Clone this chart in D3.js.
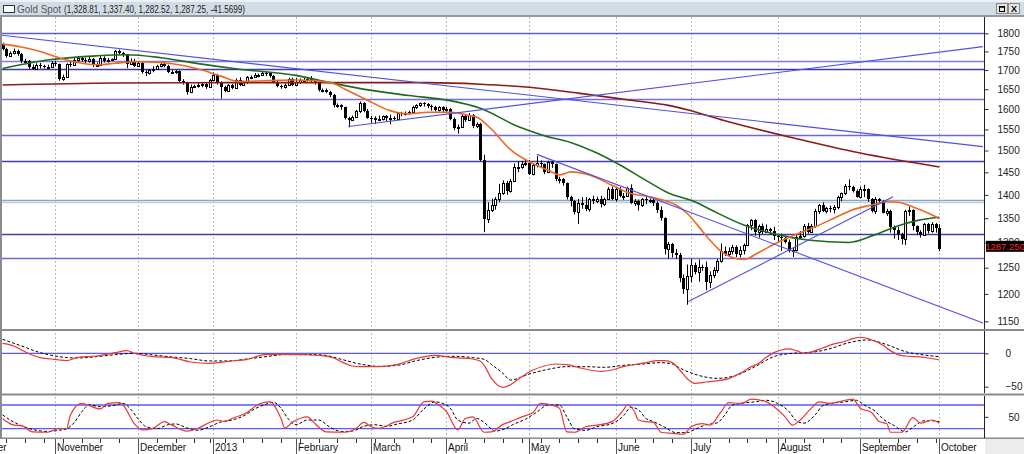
<!DOCTYPE html>
<html>
<head>
<meta charset="utf-8">
<script src="https://cdn.jsdelivr.net/npm/d3@7"></script>
<style>
  body { margin: 0; background: #fff; overflow: hidden; }
  svg { display: block; font-family: "Liberation Sans", Arial, sans-serif; }
</style>
</head>
<body>
<svg id="chart" width="1024" height="454"></svg>
<script>
// Gold spot, one candle per trading day, 12 Oct 2012 .. 1 Oct 2013
const open = [
  1770,1756,1738,1746,1752,1744,1724,1725,1709,1703,1713,1712,1708,1709,
  1719,1715,1676,1683,1715,1714,1727,1731,1728,1725,1730,1713,1714,1733,1725,1728,1729,1751,1745,1741,1717,1725,
  1712,1719,1696,1693,1699,1704,1711,1716,1712,1695,1696,1697,1670,1667,1642,1657,1658,1662,1664,1656,
  1675,1688,1668,1656,1645,1660,1654,1673,1662,1668,1681,1682,1686,1687,1692,1691,1685,1669,1659,1655,1662,1677,
  1662,1668,1675,1675,1677,1670,1667,1648,1648,1643,1636,1609,1610,1604,1577,1573,1581,1594,1615,1596,
  1578,1577,1573,1576,1582,1577,1578,1576,1590,1587,1591,1592,1604,1610,1614,1612,1607,1605,1598,1605,
  1598,1600,1575,1554,1557,1582,1574,1585,1558,1564,1477,1348,1368,1377,1392,1405,1425,1408,1431,1462,1462,1468,
  1472,1446,1467,1470,1468,1450,1473,1469,1434,1435,1425,1395,1387,1364,1383,1377,1369,1391,1386,1392,1380,1391,1412,
  1392,1412,1397,1398,1414,1383,1386,1378,1391,1388,1388,1383,1368,1350,1286,1296,1279,1275,1230,1209,
  1234,1255,1242,1252,1251,1223,1235,1245,1263,1283,1277,1283,1290,1277,1284,1295,1335,1346,1321,1334,1322,1328,1324,
  1313,1311,1310,1302,1283,1284,1311,1313,1334,1322,1334,1366,1377,1365,1372,1370,1374,1395,1404,1420,1418,1409,
  1396,1412,1412,1390,1366,1391,1386,1362,1366,1331,1326,1318,1307,1365,1367,1333,1322,1316,1337,1323,1338,
  1328.81
];
const high = [
  1774,1760,1750,1758,1755,1746,1730,1727,1715,1718,1719,1714,1714,1724,
  1725,1717,1688,1718,1724,1732,1738,1736,1733,1736,1732,1720,1738,1737,1732,1731,1754,1755,1749,1743,1731,1730,
  1724,1721,1700,1703,1710,1714,1720,1722,1714,1700,1700,1699,1676,1669,1662,1662,1666,1668,1667,1677,
  1694,1690,1670,1659,1663,1664,1678,1681,1672,1684,1686,1692,1691,1695,1696,1694,1687,1672,1662,1665,1680,1680,
  1679,1678,1680,1682,1684,1673,1669,1652,1652,1646,1638,1614,1612,1606,1581,1584,1598,1619,1617,1600,
  1583,1582,1584,1584,1585,1586,1582,1592,1593,1594,1596,1608,1612,1616,1617,1615,1611,1608,1607,1607,
  1605,1602,1579,1562,1588,1586,1590,1588,1567,1566,1490,1384,1392,1395,1424,1432,1431,1435,1470,1475,1476,1478,
  1478,1470,1487,1477,1470,1476,1476,1470,1440,1437,1427,1398,1389,1391,1395,1395,1393,1398,1396,1398,1394,1417,1418,
  1416,1417,1404,1418,1423,1391,1390,1393,1396,1392,1394,1386,1375,1352,1301,1299,1287,1279,1237,1256,
  1267,1260,1266,1256,1262,1243,1251,1267,1298,1292,1290,1295,1294,1292,1298,1338,1348,1348,1337,1339,1337,1330,1332,
  1317,1318,1313,1306,1290,1315,1323,1338,1340,1338,1370,1380,1384,1374,1377,1378,1398,1405,1424,1434,1420,1412,
  1418,1422,1414,1393,1395,1393,1388,1370,1368,1335,1332,1320,1368,1375,1369,1335,1325,1340,1340,1342,1340,
  1337.40
];
const low = [
  1753,1733,1735,1742,1738,1718,1718,1703,1700,1700,1704,1704,1705,1707,
  1710,1672,1672,1681,1708,1712,1722,1722,1718,1720,1708,1708,1712,1720,1720,1724,1727,1740,1735,1705,1714,1708,
  1710,1690,1684,1688,1694,1702,1707,1707,1692,1690,1690,1666,1662,1636,1640,1653,1654,1655,1651,1654,
  1672,1662,1626,1642,1643,1650,1652,1658,1660,1664,1676,1679,1681,1685,1684,1680,1665,1655,1651,1652,1660,1658,
  1658,1664,1669,1670,1666,1662,1644,1642,1640,1630,1604,1603,1598,1574,1555,1570,1578,1590,1592,1576,
  1566,1563,1570,1572,1570,1562,1572,1574,1582,1584,1586,1590,1600,1605,1606,1602,1596,1594,1594,1592,
  1592,1572,1548,1540,1555,1568,1571,1553,1553,1475,1321,1340,1363,1368,1384,1400,1400,1405,1428,1450,1458,1464,
  1444,1443,1461,1462,1446,1448,1460,1430,1425,1420,1390,1375,1358,1338,1370,1365,1364,1380,1382,1373,1376,1389,1388,
  1385,1395,1389,1396,1380,1376,1366,1374,1380,1382,1376,1361,1345,1276,1268,1270,1267,1222,1200,1180,
  1222,1237,1223,1244,1207,1211,1230,1240,1260,1273,1272,1276,1271,1270,1276,1294,1325,1314,1310,1317,1320,1316,1305,
  1300,1283,1298,1280,1271,1282,1308,1310,1318,1320,1330,1359,1363,1360,1362,1360,1369,1386,1400,1410,1405,1394,
  1393,1395,1385,1362,1359,1380,1360,1355,1320,1308,1305,1296,1295,1355,1325,1315,1310,1314,1318,1320,1320,
  1282.52
];
const close = [
  1756,1738,1746,1752,1744,1724,1725,1709,1703,1713,1712,1708,1709,1719,
  1715,1676,1683,1715,1714,1727,1731,1728,1725,1730,1713,1714,1733,1725,1728,1729,1751,1745,1741,1717,1725,1712,
  1719,1696,1693,1699,1704,1711,1716,1712,1695,1696,1697,1670,1667,1642,1657,1658,1662,1664,1656,1675,
  1688,1668,1656,1645,1660,1654,1673,1662,1668,1681,1682,1686,1687,1692,1691,1685,1669,1659,1655,1662,1677,1662,
  1668,1675,1675,1677,1670,1667,1648,1648,1643,1636,1609,1610,1604,1577,1573,1581,1594,1615,1596,1578,
  1577,1573,1576,1582,1577,1578,1576,1590,1587,1591,1592,1604,1610,1614,1612,1607,1605,1598,1605,1598,
  1600,1575,1554,1557,1582,1574,1585,1558,1564,1477,1348,1368,1377,1392,1405,1425,1408,1431,1462,1462,1468,1472,
  1446,1467,1470,1468,1450,1473,1469,1434,1435,1425,1395,1387,1364,1383,1377,1369,1391,1386,1392,1380,1391,1412,1392,
  1412,1397,1398,1414,1383,1386,1378,1391,1388,1388,1383,1368,1350,1286,1296,1279,1275,1230,1209,1234,
  1255,1242,1252,1251,1223,1235,1245,1263,1283,1277,1283,1290,1277,1284,1295,1335,1346,1321,1334,1322,1328,1324,1313,
  1311,1310,1302,1283,1284,1311,1313,1334,1322,1334,1366,1377,1365,1372,1370,1374,1395,1404,1420,1418,1409,1396,
  1412,1412,1390,1366,1391,1386,1362,1366,1331,1326,1318,1307,1365,1367,1333,1322,1316,1337,1323,1338,1329,
  1287.25
];

// moving averages: [trading day, price]
const fastMa = [[0,1770],[5,1762],[10,1750],[15,1733],[20,1720],[25,1714],[30,1718],[35,1722],[42,1720],[48,1712],
  [53,1700],[58,1684],[63,1670],[70,1672],[78,1674],[87,1668],[91,1650],[97,1622],[103,1596],[108,1588],[113,1592],
  [119,1592],[124,1584],[126,1580],[130,1550],[135,1502],[140,1474],[145,1455],[148,1444],[151,1451],[156,1444],
  [162,1421],[167,1403],[172,1396],[175,1390],[179,1378],[182,1360],[185,1333],[188,1305],[191,1282],[194,1270],
  [197,1266],[201,1280],[206,1300],[211,1317],[216,1332],[221,1350],[226,1368],[231,1378],[235,1385],[238,1384],
  [242,1374],[246,1361],[249,1349]];
const midMa = [[0,1704],[13,1728],[25,1738],[33,1741],[42,1733],[52,1717],[63,1702],[78,1686],[87,1667],[98,1647],
  [108,1634],[119,1621],[127,1602],[137,1557],[144,1535],[151,1519],[158,1494],[164,1467],[171,1432],[177,1404],
  [184,1385],[188,1369],[197,1336],[206,1316],[214,1305],[225,1300],[232,1316],[238,1334],[243,1345],[249,1352]];
const slowMa = [[0,1661],[30,1666],[60,1667],[87,1667],[113,1667],[127,1663],[140,1655],[153,1640],[167,1622],
  [177,1609],[182,1598],[192,1571],[210,1530],[228,1494],[249,1462]];

// horizontal levels and trend lines drawn on the chart
const levels = [1800, 1724, 1702, 1624, 1535, 1475, 1387, 1383, 1316, 1268];
const levelColors = ['#5b5bd6', '#7b7be6', '#3b3bab', '#7070e0', '#6a6adc', '#3d3db0', '#92a4b8', '#b9cfe3', '#3d3db0', '#6a6ae0'];
const trendLines = [
  [[-0.7, 1795], [260.6, 1509]],
  [[91.9, 1557], [260.6, 1763]],
  [[142, 1491], [260.6, 1147]],
  [[182.3, 1186], [236.7, 1396]]
];

// lower panels: [trading day, value]
const macdLine = [[0,15],[3,11],[5,5],[8,-3],[10,-6.5],[13,-8.5],[15,-10],[17,-11],[20,-6],[25,-4],[30,1],[33,4],
  [35,0],[40,-5],[45,-6.5],[50,-13],[55,-15],[60,-12],[65,-9],[70,-1.5],[75,-1.5],[80,-2],[85,-3.5],[88,-7],
  [90,-12.5],[93,-19],[95,-20],[100,-20],[105,-16.5],[110,-7.5],[115,-3],[120,-6.5],[125,-8.5],[127,-12],[128,-18],
  [130,-38],[133,-51],[135,-47],[138,-35],[141,-25],[144,-19],[147,-16],[150,-17],[153,-21],[156,-25],[159,-27],
  [162,-25],[165,-20],[168,-17],[171,-14],[174,-11],[176,-11],[178,-14],[180,-25],[182,-38],[184,-45],[187,-43],
  [190,-41],[193,-38],[196,-30],[199,-20],[201,-15],[203,-6],[205,1],[207,5],[209,6.5],[211,4],[213,0],[215,2],
  [218,8],[221,14],[224,18],[226,22],[228,24],[230,22],[232,18],[234,12],[236,4],[238,-2],[240,-4],[243,-5],
  [246,-7],[249,-10]];
const macdSignal = [[0,21],[5,11],[10,1],[15,-5],[20,-7],[25,-5],[30,-2],[35,0],[40,-2.5],[45,-5.5],[50,-8],
  [55,-11.5],[60,-11.5],[65,-8.5],[70,-5],[75,-2],[80,-2],[85,-2.5],[90,-9],[95,-16],[100,-19.5],[105,-18],
  [110,-11],[115,-6],[120,-4.5],[125,-6.5],[128,-9],[130,-17],[133,-30],[135,-40],[140,-31],[145,-24],[150,-20],
  [155,-20],[160,-21],[165,-18],[170,-16],[175,-14],[178,-16],[180,-22],[185,-33],[190,-37.5],[195,-33],[200,-20],
  [205,-5],[210,0],[215,1.5],[220,7],[225,16],[230,20],[235,13],[240,2.5],[245,-2.5],[249,-5]];
const stochK = [[0,46],[1,38],[3,29],[5,28],[8,12],[12,11],[15,21],[17,20],[18,54],[21,84],[22,82],[26,70],[28,84],
  [31,86],[32,80],[35,33],[37,17],[40,21],[43,38],[45,29],[49,14],[52,21],[54,31],[57,42],[59,38],[61,46],[65,61],
  [68,82],[71,88],[74,46],[75,22],[77,36],[81,50],[83,33],[86,12],[91,11],[94,21],[96,36],[98,25],[100,21],[104,36],
  [109,50],[112,88],[114,90],[116,80],[118,63],[121,17],[123,46],[125,50],[128,11],[130,12],[133,31],[135,38],
  [138,50],[141,61],[143,84],[146,80],[148,72],[150,12],[152,11],[155,25],[158,29],[162,38],[165,67],[166,80],
  [168,63],[169,42],[171,38],[173,36],[175,11],[178,8],[181,6],[183,25],[186,33],[188,29],[191,63],[193,86],
  [196,84],[197,86],[199,95],[203,88],[205,76],[208,50],[210,29],[212,42],[215,72],[217,88],[220,84],[224,92],
  [226,95],[228,72],[231,61],[233,38],[235,33],[236,11],[239,11],[242,48],[244,34],[247,42],[249,34]];
const stochD = [[0,55],[2,42],[4,32],[6,24],[9,16],[12,13],[15,16],[17,20],[19,35],[21,62],[23,80],[26,76],[29,78],
  [32,84],[34,70],[36,45],[38,26],[41,20],[44,30],[46,32],[49,22],[52,16],[55,25],[58,37],[61,42],[64,52],[67,70],
  [70,82],[72,87],[74,72],[76,44],[78,30],[81,42],[84,42],[87,24],[90,13],[93,14],[96,26],[99,30],[102,26],[105,32],
  [109,42],[112,70],[115,88],[117,84],[119,72],[121,42],[124,34],[126,46],[128,36],[131,14],[134,22],[136,32],
  [139,44],[142,62],[145,80],[148,80],[150,50],[152,20],[155,16],[158,25],[162,33],[165,52],[167,74],[169,68],
  [171,46],[173,38],[176,24],[179,10],[182,10],[184,18],[187,30],[190,35],[192,55],[194,80],[197,85],[200,88],
  [203,92],[206,84],[209,64],[211,40],[213,34],[216,55],[218,78],[221,85],[224,88],[227,92],[229,80],[232,64],
  [234,45],[237,28],[240,12],[242,24],[245,40],[247,40],[249,38]];

const priceTicks = d3.range(1150, 1801, 50);
const macdTicks = [0, -50];
const stochTicks = [50];
const stochBands = [80, 20];
const holidays = ['2012-12-25', '2013-01-01', '2013-03-29'];
const titleName = 'Gold Spot';
const titleValues = '(1,328.81, 1,337.40, 1,282.52, 1,287.25, -41.5699)';
const lastPrice = close[close.length - 1];

// layout
const PLOT = { left: 2, right: 984 };
const MAIN = { top: 17, bottom: 329 };
const MACD = { top: 331, bottom: 393 };
const STOCH = { top: 396, bottom: 437 };
const AXIS_TOP = 438;

const x = d3.scaleLinear().domain([0, 249]).range([2.6, 939.3]);
const yPrice = d3.scaleLog().domain([1800, 1150]).range([33.3, 321.3]);
const yMacd = d3.scaleLinear().domain([0, -50]).range([353.3, 386.7]);
const yStoch = d3.scaleLinear().domain([80, 20]).range([405, 428.7]);
const px = v => Math.round(v) + 0.5;

// trading calendar -> month and week starts
const fmtDay = d3.timeFormat('%Y-%m-%d');
const fmtMonth = d3.timeFormat('%B');
const tradingDays = d3.timeDay.range(new Date(2012, 9, 1), new Date(2013, 9, 2))
  .filter(d => d.getDay() % 6 !== 0 && !holidays.includes(fmtDay(d)));
const firstDay = tradingDays.findIndex(d => fmtDay(d) === '2012-10-12');
const days = tradingDays.map((d, j) => ({ date: d, i: j - firstDay, prev: tradingDays[j - 1] }));
const monthStarts = days.filter(e => !e.prev || e.prev.getMonth() !== e.date.getMonth());
const weekStarts = days.filter(e => !e.prev || e.date.getDay() < e.prev.getDay());
const monthLabel = d => d.getMonth() === 0 ? String(d.getFullYear()) : fmtMonth(d);

const svg = d3.select('#chart');
const defs = svg.append('defs');
[['main', MAIN], ['macd', MACD], ['stoch', STOCH]].forEach(([id, p]) => {
  defs.append('clipPath').attr('id', 'clip-' + id)
    .append('rect')
    .attr('x', PLOT.left).attr('y', p.top)
    .attr('width', PLOT.right - PLOT.left).attr('height', p.bottom - p.top);
});

svg.append('rect').attr('width', 1024).attr('height', 454).attr('fill', '#fff');

// dashed month grid through all panels
svg.append('g').selectAll('line')
  .data(monthStarts.filter(m => m.i >= 0))
  .join('line')
  .attr('x1', m => px(x(m.i))).attr('x2', m => px(x(m.i)))
  .attr('y1', MAIN.top).attr('y2', AXIS_TOP)
  .attr('stroke', '#bdbdbd')
  .attr('stroke-dasharray', '2,2');

// ---- price panel
const main = svg.append('g').attr('clip-path', 'url(#clip-main)');

main.append('g').selectAll('line')
  .data(levels)
  .join('line')
  .attr('x1', PLOT.left).attr('x2', PLOT.right)
  .attr('y1', d => px(yPrice(d) - 0.5)).attr('y2', d => px(yPrice(d) - 0.5))
  .attr('stroke', (d, k) => levelColors[k])
  .attr('stroke-width', 1.3);

const candles = close.map((c, i) => ({ i, o: open[i], h: high[i], l: low[i], c, up: c >= open[i] }));
const gCandles = main.append('g');
gCandles.selectAll('line')
  .data(candles)
  .join('line')
  .attr('x1', d => px(x(d.i))).attr('x2', d => px(x(d.i)))
  .attr('y1', d => yPrice(Math.max(d.h, d.o, d.c)))
  .attr('y2', d => yPrice(Math.min(d.l, d.o, d.c)))
  .attr('stroke', '#000');
gCandles.selectAll('rect')
  .data(candles)
  .join('rect')
  .attr('x', d => Math.round(x(d.i)) - (d.up ? 0.5 : 1))
  .attr('y', d => Math.round(yPrice(Math.max(d.o, d.c))) + (d.up ? 0.5 : 0))
  .attr('width', d => d.up ? 2 : 3)
  .attr('height', d => Math.max(1, Math.round(yPrice(Math.min(d.o, d.c))) - Math.round(yPrice(Math.max(d.o, d.c)))))
  .attr('fill', d => d.up ? '#fff' : '#000')
  .attr('stroke', d => d.up ? '#000' : 'none');

const maLine = d3.line().x(d => x(d[0])).y(d => yPrice(d[1])).curve(d3.curveMonotoneX);
[[slowMa, '#8c1a17'], [midMa, '#22691f'], [fastMa, '#f0671f']].forEach(([series, color]) => {
  main.append('path')
    .attr('d', maLine(series))
    .attr('fill', 'none')
    .attr('stroke', color)
    .attr('stroke-width', 1.6);
});

main.append('g').selectAll('line')
  .data(trendLines)
  .join('line')
  .attr('x1', d => x(d[0][0])).attr('y1', d => yPrice(d[0][1]))
  .attr('x2', d => x(d[1][0])).attr('y2', d => yPrice(d[1][1]))
  .attr('stroke', '#5050e0')
  .attr('stroke-width', 1.1);

// ---- MACD panel
const macd = svg.append('g').attr('clip-path', 'url(#clip-macd)');
macd.append('line')
  .attr('x1', PLOT.left).attr('x2', PLOT.right)
  .attr('y1', yMacd(0)).attr('y2', yMacd(0))
  .attr('stroke', '#5a5af0').attr('stroke-width', 1.3);
const macdPath = d3.line().x(d => x(d[0])).y(d => yMacd(d[1])).curve(d3.curveMonotoneX);
macd.append('path').attr('d', macdPath(macdSignal))
  .attr('fill', 'none').attr('stroke', '#000').attr('stroke-dasharray', '3,2');
macd.append('path').attr('d', macdPath(macdLine))
  .attr('fill', 'none').attr('stroke', '#e8383a').attr('stroke-width', 1.2);

// ---- stochastic panel
const stoch = svg.append('g').attr('clip-path', 'url(#clip-stoch)');
stoch.selectAll('line')
  .data(stochBands)
  .join('line')
  .attr('x1', PLOT.left).attr('x2', PLOT.right)
  .attr('y1', d => yStoch(d)).attr('y2', d => yStoch(d))
  .attr('stroke', '#5a5af0').attr('stroke-width', 1.3);
const stochPath = d3.line().x(d => x(d[0])).y(d => yStoch(d[1])).curve(d3.curveMonotoneX);
stoch.append('path').attr('d', stochPath(stochD))
  .attr('fill', 'none').attr('stroke', '#000').attr('stroke-dasharray', '3,2');
stoch.append('path').attr('d', stochPath(stochK))
  .attr('fill', 'none').attr('stroke', '#e8383a').attr('stroke-width', 1.2);

// ---- frame, separators
svg.append('rect').attr('x', 0).attr('y', MAIN.top).attr('width', 2).attr('height', AXIS_TOP - MAIN.top).attr('fill', '#8c8c8c');
[[MAIN.bottom, 2], [MACD.bottom + 0.5, 2], [AXIS_TOP - 0.5, 1.5]].forEach(([y, h]) => {
  svg.append('rect').attr('x', 0).attr('y', y).attr('width', 1024).attr('height', h).attr('fill', '#8a8a8a');
});

// ---- right axes
function rightAxis(scale, major, minor, padding, top, bottom) {
  const g = svg.append('g').attr('transform', `translate(${PLOT.right + 0.5},0)`)
    .attr('font-family', '"Liberation Sans", Arial, sans-serif');
  g.call(d3.axisRight(scale).tickValues(minor).tickSize(2).tickFormat(''));
  g.call(d3.axisRight(scale).tickValues(major).tickSize(4).tickPadding(padding).tickFormat(d3.format('d')));
  g.selectAll('.domain').remove();
  g.selectAll('text').attr('font-size', 10).attr('fill', '#222');
  g.selectAll('line').attr('stroke', '#333');
  g.append('line').attr('y1', top).attr('y2', bottom).attr('stroke', '#222');
  return g;
}
rightAxis(yPrice, priceTicks, d3.range(1140, 1841, 10), 9, MAIN.top, MAIN.bottom);
rightAxis(yMacd, macdTicks, d3.range(-60, 31, 10), 17, MACD.top, MACD.bottom);
rightAxis(yStoch, stochTicks, d3.range(0, 101, 10), 20, STOCH.top, AXIS_TOP);

// last price tag (sits over the 1300 label, as in the terminal)
svg.append('rect')
  .attr('x', 986).attr('y', yPrice(lastPrice) - 8)
  .attr('width', 38).attr('height', 11)
  .attr('fill', '#000');
svg.append('text')
  .attr('x', 1005).attr('y', yPrice(lastPrice) + 1)
  .attr('text-anchor', 'middle')
  .attr('font-size', 9.5)
  .attr('fill', '#ff2424')
  .text(d3.format('.3f')(lastPrice));

// ---- time axis
const xAxis = svg.append('g');
xAxis.append('rect').attr('x', PLOT.right + 1).attr('y', AXIS_TOP + 1).attr('width', 40).attr('height', 16).attr('fill', '#ececec');
xAxis.selectAll('line.week')
  .data(weekStarts.filter(w => w.i >= 0))
  .join('line')
  .attr('class', 'week')
  .attr('x1', w => px(x(w.i))).attr('x2', w => px(x(w.i)))
  .attr('y1', AXIS_TOP + 1).attr('y2', AXIS_TOP + 5)
  .attr('stroke', '#333');
xAxis.selectAll('line.month')
  .data(monthStarts.filter(m => m.i >= 0))
  .join('line')
  .attr('class', 'month')
  .attr('x1', m => px(x(m.i))).attr('x2', m => px(x(m.i)))
  .attr('y1', AXIS_TOP + 1).attr('y2', 454)
  .attr('stroke', '#555');
xAxis.selectAll('text')
  .data(monthStarts)
  .join('text')
  .attr('x', m => Math.round(x(m.i)) + 2)
  .attr('y', 451)
  .attr('font-size', 10)
  .attr('fill', '#111')
  .text(m => monthLabel(m.date));

// ---- title bar
const bar = svg.append('g');
bar.append('rect').attr('width', 1024).attr('height', 17).attr('fill', '#d3dce5');
bar.append('rect').attr('width', 1024).attr('height', 2).attr('fill', '#eef2f6');
bar.append('rect').attr('y', 15).attr('width', 1024).attr('height', 2).attr('fill', '#8e9aa7');
bar.append('rect').attr('x', 3.5).attr('y', 5.5).attr('width', 11).attr('height', 7)
  .attr('fill', '#fff').attr('stroke', '#333');
bar.append('text')
  .attr('x', 17).attr('y', 12.5)
  .attr('font-size', 10.5)
  .attr('textLength', 44)
  .attr('lengthAdjust', 'spacingAndGlyphs')
  .attr('fill', '#555')
  .text(titleName);
bar.append('text')
  .attr('x', 64).attr('y', 12.5)
  .attr('font-size', 10.5)
  .attr('textLength', 181)
  .attr('lengthAdjust', 'spacingAndGlyphs')
  .attr('fill', '#222')
  .text(titleValues);

bar.append('rect').attr('x', 996.5).attr('y', 3.5).attr('width', 11).attr('height', 10)
  .attr('fill', '#e4e4e4').attr('stroke', '#8a8a8a');
bar.append('rect').attr('x', 999.5).attr('y', 6.5).attr('width', 5).attr('height', 5)
  .attr('fill', 'none').attr('stroke', '#000');
bar.append('line').attr('x1', 999.5).attr('x2', 1004.5).attr('y1', 7).attr('y2', 7).attr('stroke', '#000').attr('stroke-width', 1.5);
bar.append('rect').attr('x', 1008.5).attr('y', 3.5).attr('width', 11).attr('height', 10)
  .attr('fill', '#e4e4e4').attr('stroke', '#8a8a8a');
bar.append('text').attr('x', 1014).attr('y', 12).attr('text-anchor', 'middle')
  .attr('font-size', 9).attr('font-weight', 'bold').attr('fill', '#000').text('X');
</script>
</body>
</html>
